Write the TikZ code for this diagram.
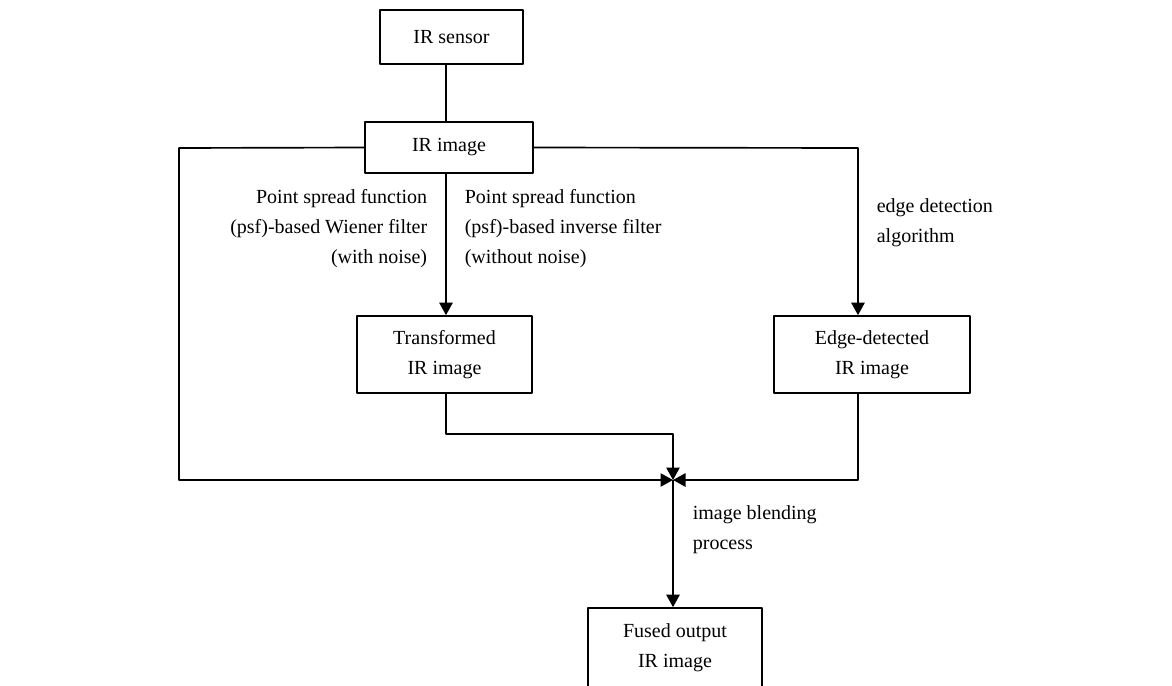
\documentclass[tikz,border=0pt]{standalone}
\usepackage{fontspec}
\setmainfont{Liberation Serif}
\usetikzlibrary{arrows.meta}
\begin{document}
\begin{tikzpicture}[x=0.6pt, y=-0.6pt, line width=1pt, line join=round,
	font=\fontsize{12}{17.8}\selectfont, >={Triangle[length=7.5pt,width=8pt]},
	box/.style={draw, line width=1pt, inner sep=0pt, align=center},
	lbl/.style={inner sep=0pt}]
			\useasboundingbox (0,0) rectangle (1172,685);
			\node[box, minimum width=85.8pt, minimum height=32.4pt] (S) at (451.5,37) {IR sensor};
			\node[box, minimum width=100.8pt, minimum height=30.6pt] (I) at (449,147.5) {IR image};
			\node[box, minimum width=105pt, minimum height=46.2pt] (T) at (444.5,354.5) {Transformed\\IR image};
			\node[box, minimum width=117.6pt, minimum height=46.2pt] (E) at (872,354.5) {Edge-detected\\IR image};
			\node[box, minimum width=104.4pt, minimum height=48pt] (F) at (675,648) {Fused output\\IR image};
			\coordinate (J) at (673,480);
			\coordinate (L) at (179,148);
			\coordinate (R) at (858,148);
			\coordinate (D) at (446,434);
			% links from the sensor and the IR image
			\draw (S.south -| 446,0)--(I.north -| 446,0);
			\draw[->] (I.south -| 446,0)--(T.north -| 446,0);
			\draw[->] (I.east)--(R)--(E.north -| R);
			\draw[->] (I.west)--(L)--(L |- J)--(J);
			% into the blending point
			\draw[->] (T.south -| D)--(D)--(D -| J)--(J);
			\draw[->] (E.south -| R)--(R |- J)--(J);
			\draw[->] (J)--(F.north -| J);
			\node[lbl, anchor=north east, align=right] (wf) at (428,189) {Point spread function\\(psf)-based Wiener filter\\(with noise)};
			\node[lbl, anchor=north west, align=left] (if) at (464,189) {Point spread function\\(psf)-based inverse filter\\(without noise)};
			\node[lbl, anchor=north west, align=left] (ed) at (876,198) {edge detection\\algorithm};
			\node[lbl, anchor=north west, align=left] (bp) at (692,505) {image blending\\process};
			\end{tikzpicture}
\end{document}
